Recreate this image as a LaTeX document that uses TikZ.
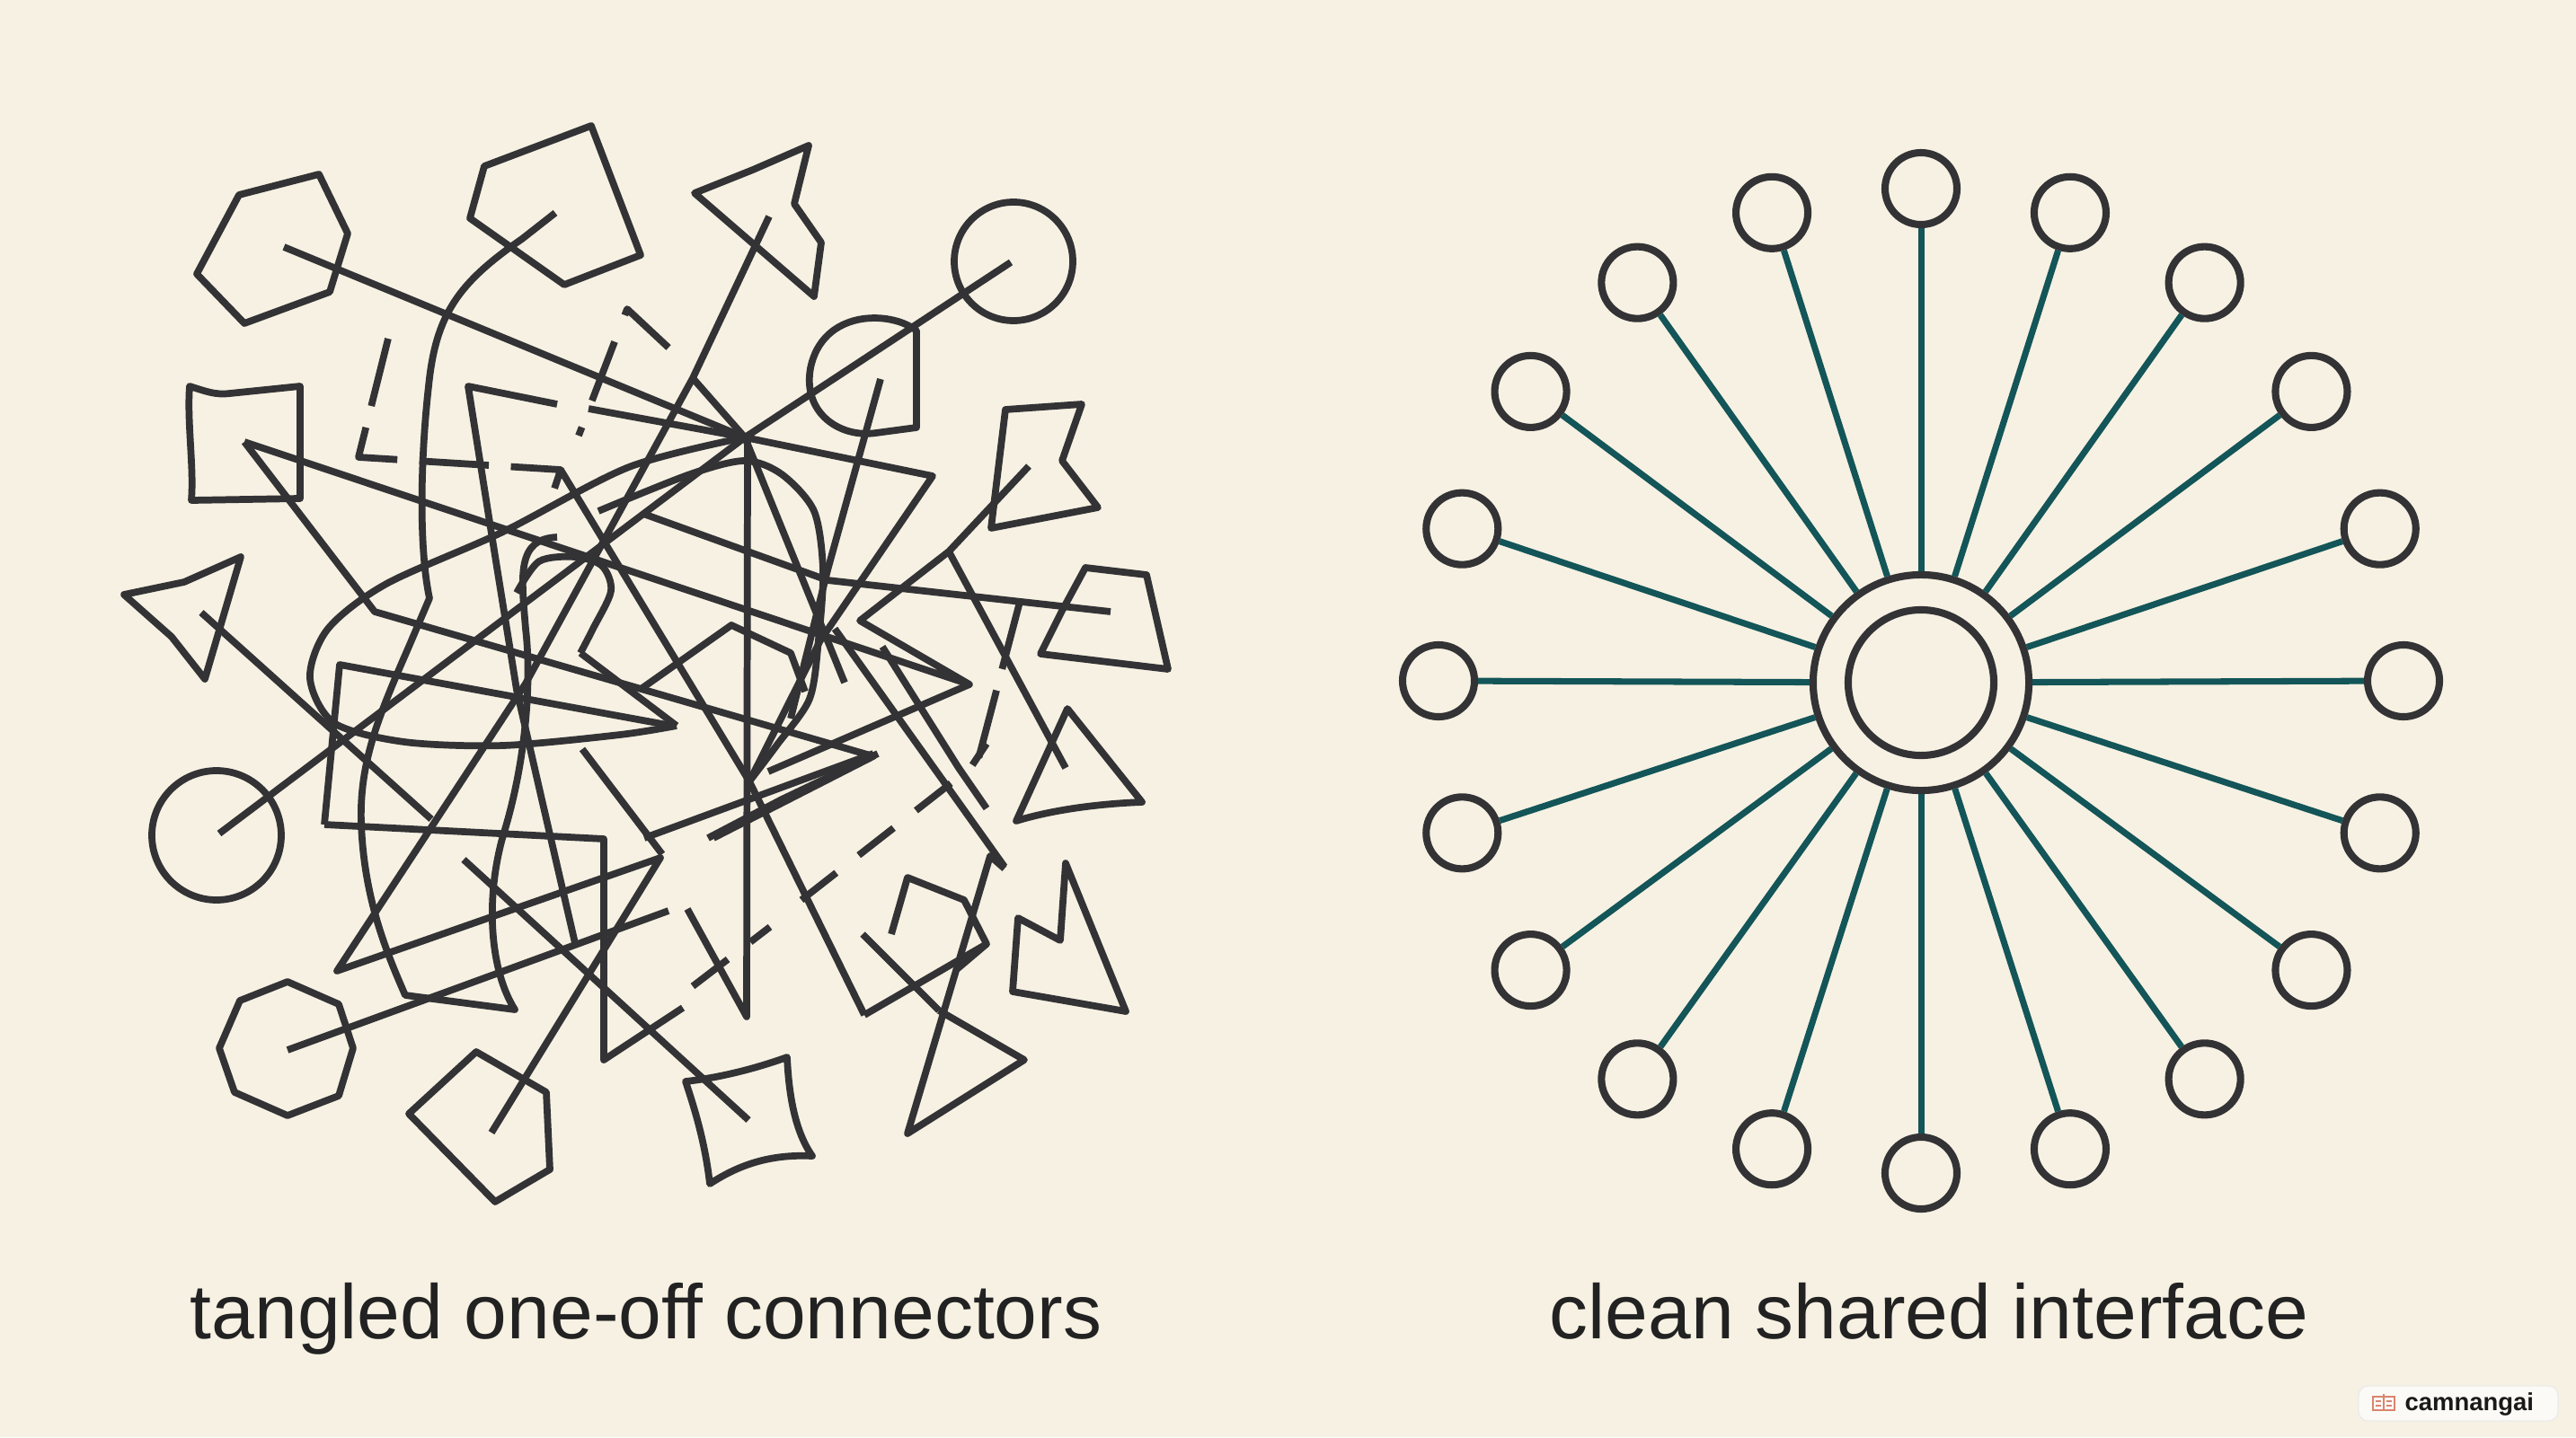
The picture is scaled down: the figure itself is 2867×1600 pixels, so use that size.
\documentclass[tikz,border=0pt]{standalone}
\usepackage{fontspec}
\setmainfont{Liberation Sans}
\usetikzlibrary{calc}
\definecolor{paper}{HTML}{F6F1E2}
\definecolor{ink}{HTML}{333336}
\definecolor{spokecol}{HTML}{135558}
\definecolor{labelcol}{HTML}{222222}
\definecolor{bookcol}{HTML}{D9856E}
\begin{document}
\begin{tikzpicture}[x=0.01cm, y=-0.01cm,
  wire/.style={draw=ink, line width=2.2pt, line join=round},
  dashwire/.style={wire, dash pattern=on 22pt off 7pt},
  shortdash/.style={wire, dash pattern=on 14pt off 9pt},
  hubring/.style={circle, draw=ink, line width=2.3pt, fill=paper, inner sep=0pt},
  port/.style={circle, draw=ink, line width=2.3pt, fill=paper, inner sep=0pt, minimum size=0.8cm},
  spoke/.style={draw=spokecol, line width=2pt},
  caption/.style={font=\fontsize{24.4pt}{28pt}\selectfont, text=labelcol, anchor=base}]
\fill [paper] (0,0) rectangle (2867,1600);

\draw [wire] (266,217) -- (355,194) -- (387,260) -- (367,325) -- (272,360) -- (219,305) -- cycle;
\draw [wire] (539,185) -- (658,140) -- (713,284) -- (628,317) -- (523,243) -- cycle;
\draw [wire] (773,215) -- (838,189) -- (900,162) -- (884,227) -- (914,270) -- (906,330) -- cycle;
\draw [wire] (1128,291) circle [radius=66];
\draw [wire] (1020,476) -- (1020,368) .. controls (990,345) and (915,345) .. (902,410) .. controls (893,460) and (935,488) .. (975,482) -- cycle;
\draw [wire] (211,430) .. controls (230,436) and (240,440) .. (256,438) -- (334,430) -- (334,555) -- (213,557) .. controls (216,520) and (208,470) .. (211,430) -- cycle;
\draw [wire] (138,662) -- (205,648) -- (268,620) -- (228,756) -- (191,709) -- cycle;
\draw [wire] (241,930) circle [radius=72];
\draw [wire] (267,1114) -- (320,1093) -- (377,1118) -- (393,1167) -- (377,1220) -- (320,1242) -- (261,1216) -- (244,1167) -- cycle;
\draw [wire] (455,1240) -- (530,1171) -- (608,1216) -- (612,1302) -- (551,1338) -- cycle;
\draw [wire] (763,1204) .. controls (800,1200) and (840,1190) .. (876,1177) .. controls (878,1220) and (885,1260) .. (904,1287) .. controls (860,1285) and (825,1295) .. (790,1318) .. controls (785,1275) and (775,1240) .. (763,1204) -- cycle;
\draw [wire] (1045,1125) -- (1140,1180) -- (1010,1262) -- (1102,953) -- (1118,967);
\draw [wire] (1127,1104) -- (1133,1022) -- (1180,1047) -- (1186,961) -- (1253,1126) -- cycle;
\draw [wire] (1131,914) -- (1188,789) -- (1271,893) .. controls (1220,895) and (1170,902) .. (1131,914) -- cycle;
\draw [wire] (1119,456) -- (1204,450) -- (1182,513) -- (1222,565) -- (1103,588) -- cycle;
\draw [wire] (1208,632) -- (1276,640) -- (1300,745) -- (1158,728) -- (1182,680) -- cycle;

\draw [wire] (316,275) -- (829,487) -- (1038,530) -- (913,713) -- (834,870);
\draw [wire] (618,237) -- (581,266) .. controls (510,315) and (485,350) .. (477,430) .. controls (468,510) and (466,610) .. (478,666) -- (455,720) .. controls (420,800) and (400,850) .. (402,916) .. controls (405,1000) and (430,1060) .. (451,1108) -- (573,1124) .. controls (545,1080) and (540,1000) .. (560,930) .. controls (585,850) and (592,760) .. (585,700) .. controls (580,640) and (575,600) .. (620,598);
\draw [wire] (856,241) -- (771,421) -- (585,761) -- (375,1081) -- (735,955) -- (547,1261);
\draw [wire] (1125,292) -- (829,487) -- (244,928);
\draw [wire] (980,422) -- (921,635) -- (880,800);
\draw [wire] (272,492) -- (1079,762) -- (957,691) -- (1056,614);
\draw [wire] (1079,762) -- (855,859);
\draw [wire] (272,492) -- (417,681) -- (972,842) -- (794,933);
\draw [wire] (224,682) -- (480,912);
\draw [wire] (320,1169) -- (744,1014);
\draw [wire] (833,1247) -- (516,957);
\draw [wire] (1145,519) -- (1056,614) -- (1186,855);
\draw [wire] (1236,681) -- (921,646) -- (716,572);
\draw [wire] plot [smooth] coordinates {(829,487) (700,520) (560,592) (430,650) (365,700) (345,755) (372,805) (450,826) (560,830) (690,818) (753,808)};
\draw [wire] plot [smooth] coordinates {(575,660) (600,625) (640,620) (670,630) (680,658) (660,700) (646,727)};
\draw [wire] (646,727) -- (753,808);
\draw [wire] plot [smooth] coordinates {(666,569) (768,528) (829,513) (870,528) (906,569) (916,635) (911,712) (901,778) (865,829) (834,870)};
\draw [wire] (620,450) -- (521,430) -- (547,594) -- (575,768) -- (603,890) -- (640,1050);
\draw [dashwire] (432,377) -- (399,509) -- (624,523) -- (612,559);
\draw [wire, dash pattern=on 20pt off 9pt] (744,387) -- (698,344) -- (644,485);
\draw [wire] (655,455) -- (829,487);
\draw [wire] (771,421) -- (829,487) -- (940,760);
\draw [wire] (624,523) -- (834,870) -- (962,1130);
\draw [wire] (832,490) -- (831,1132) -- (765,1012);
\draw [shortdash] (771,1098) -- (857,1032);
\draw [wire] (361,918) -- (672,934) -- (672,1180) -- (760,1122);
\draw [wire] (748,808) -- (378,740) -- (361,918);
\draw [wire] (717,933) -- (972,839);
\draw [wire] (788,933) -- (870,890) -- (977,839);
\draw [wire] (929,700) -- (1118,965);
\draw [wire] (982,720) -- (1067,855) -- (1098,900);
\draw [shortdash] (892,1002) -- (1080,855) -- (1098,828);
\draw [dashwire] (1135,670) -- (1085,860);
\draw [wire] (992,1040) -- (1010,977) -- (1073,1002) -- (1098,1051) -- (1065,1079);
\draw [wire] (962,1130) -- (1098,1051);
\draw [wire] (712,768) -- (814,696) -- (880,727) -- (896,770);
\draw [wire] (648,834) -- (737,951);
\draw [wire] (1045,1125) -- (960,1040);

\node [hubring, minimum size=2.4cm] (hub) at (2138,760) {};
\node [hubring, minimum size=1.62cm] (core) at (hub) {};
\coordinate (ring) at (2138,758);
\foreach \i in {0,...,19} {
  \node [port] (p\i) at ($(ring)+(\i*18:537 and 548)$) {};
  \draw [spoke] (hub) -- (p\i);
}

\node [caption] (tangled) at (719,1490) {tangled one-off connectors};
\node [caption] (clean) at (2147,1490) {clean shared interface};

\draw [fill=white, fill opacity=0.7, draw=black!8, rounded corners=3pt] (2625,1543) rectangle (2847,1582);
\draw [draw=bookcol, line width=0.5pt] (2641,1555) rectangle (2665,1570);
\draw [draw=bookcol, line width=0.5pt] (2653,1552) -- (2653,1570);
\draw [draw=bookcol, line width=0.4pt] (2644,1560) -- (2650,1560) (2656,1560) -- (2662,1560) (2644,1565) -- (2650,1565) (2656,1565) -- (2662,1565);
\node [anchor=west, font=\fontsize{7.8pt}{9pt}\selectfont\bfseries, text=black!90, inner sep=0pt] (badge) at (2676,1563) {camnangai};
\end{tikzpicture}
\end{document}
